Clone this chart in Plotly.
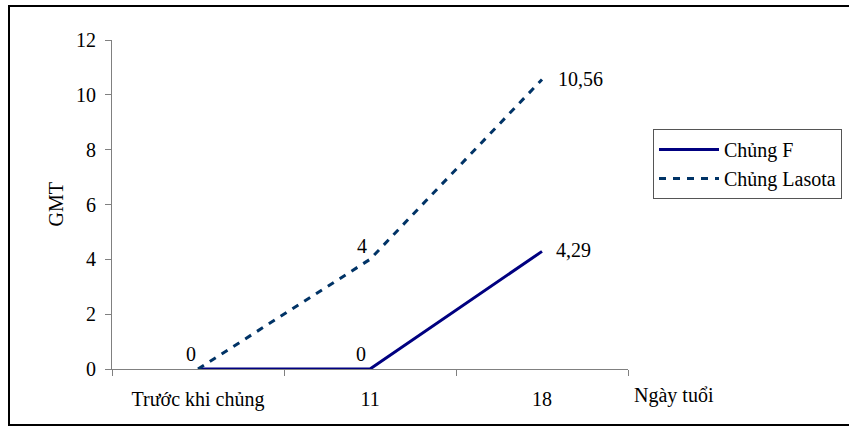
import plotly.graph_objects as go

# GMT by age (days) for the two vaccine strains
categories = ["Trước khi chủng", "11", "18"]
series_names = ["Chủng F", "Chủng Lasota"]
gmt_f = [0, 0, 4.29]
gmt_lasota = [0, 4, 10.56]
y_ticks = [0, 2, 4, 6, 8, 10, 12]

FONT = "Liberation Serif"
W, H = 849, 430
L, R, T, B = 112, 221, 40, 61
pw, ph = W - L - R, H - T - B

fig = go.Figure()
fig.add_trace(go.Scatter(
    x=categories, y=gmt_f, name=series_names[0], mode="lines",
    line=dict(color="#000080", width=3),
))
fig.add_trace(go.Scatter(
    x=categories, y=gmt_lasota, name=series_names[1], mode="lines",
    line=dict(color="#003366", width=3, dash="7px,7px"),
))


def fmt(v):
    return f"{v:g}".replace(".", ",")


# data labels: (series, category index, xanchor, yanchor, xshift, yshift)
label_spec = [
    (gmt_lasota, 0, "right", "bottom", 0, 2),
    (gmt_f, 1, "right", "bottom", -2, 2),
    (gmt_lasota, 1, "right", "bottom", -1, 0),
    (gmt_lasota, 2, "left", "middle", 14, 0),
    (gmt_f, 2, "left", "middle", 12, 1),
]
for vals, i, xa, ya, xs, ys in label_spec:
    fig.add_annotation(
        x=i, y=vals[i], xref="x", yref="y", text=fmt(vals[i]), showarrow=False,
        xanchor=xa, yanchor=ya, xshift=xs, yshift=ys,
        font=dict(family=FONT, size=20, color="black"),
    )

# axis titles
fig.add_annotation(
    xref="paper", yref="paper", x=1.0, y=0, yshift=-26, xshift=4,
    text="Ngày tuổi", showarrow=False, xanchor="left", yanchor="middle",
    font=dict(family=FONT, size=20, color="black"),
)
fig.add_annotation(
    xref="paper", yref="paper", x=(55 - L) / pw, y=0.5, textangle=-90,
    text="GMT", showarrow=False, xanchor="center", yanchor="middle",
    font=dict(family=FONT, size=20, color="black"),
)

# outer chart frame (runs off the right edge of the page)
fig.add_shape(
    type="rect", xref="paper", yref="paper",
    x0=(9 - L) / pw, x1=(920 - L) / pw,
    y0=(H - B - 425) / ph, y1=(H - B - 6) / ph,
    line=dict(color="black", width=2), layer="below",
)

fig.update_layout(
    width=W, height=H,
    margin=dict(l=L, r=R, t=T, b=B, pad=0, autoexpand=False),
    paper_bgcolor="white", plot_bgcolor="white",
    font=dict(family=FONT, size=20, color="black"),
    separators=",.",
    showlegend=True,
    legend=dict(
        x=(653 - L) / pw, y=(H - B - 129) / ph, xanchor="left", yanchor="top",
        bordercolor="#555555", borderwidth=1, bgcolor="white",
        font=dict(family=FONT, size=20, color="black"),
        itemwidth=60, tracegroupgap=0,
    ),
    xaxis=dict(
        type="category", categoryorder="array", categoryarray=categories,
        range=[-0.5, 2.5], tickangle=0, automargin=False,
        showline=True, linecolor="#808080", linewidth=1,
        ticks="outside", ticklen=6, tickcolor="#808080", tickson="boundaries",
        ticklabelstandoff=12,
        showgrid=False, zeroline=False,
        tickfont=dict(family=FONT, size=20), fixedrange=True,
    ),
    yaxis=dict(
        range=[0, 12], tickvals=y_ticks, automargin=False,
        showline=True, linecolor="#808080", linewidth=1,
        ticks="outside", ticklen=6, tickcolor="#808080",
        ticklabelstandoff=5,
        showgrid=False, zeroline=False,
        tickfont=dict(family=FONT, size=20),
    ),
)

fig.write_html("out.html")
